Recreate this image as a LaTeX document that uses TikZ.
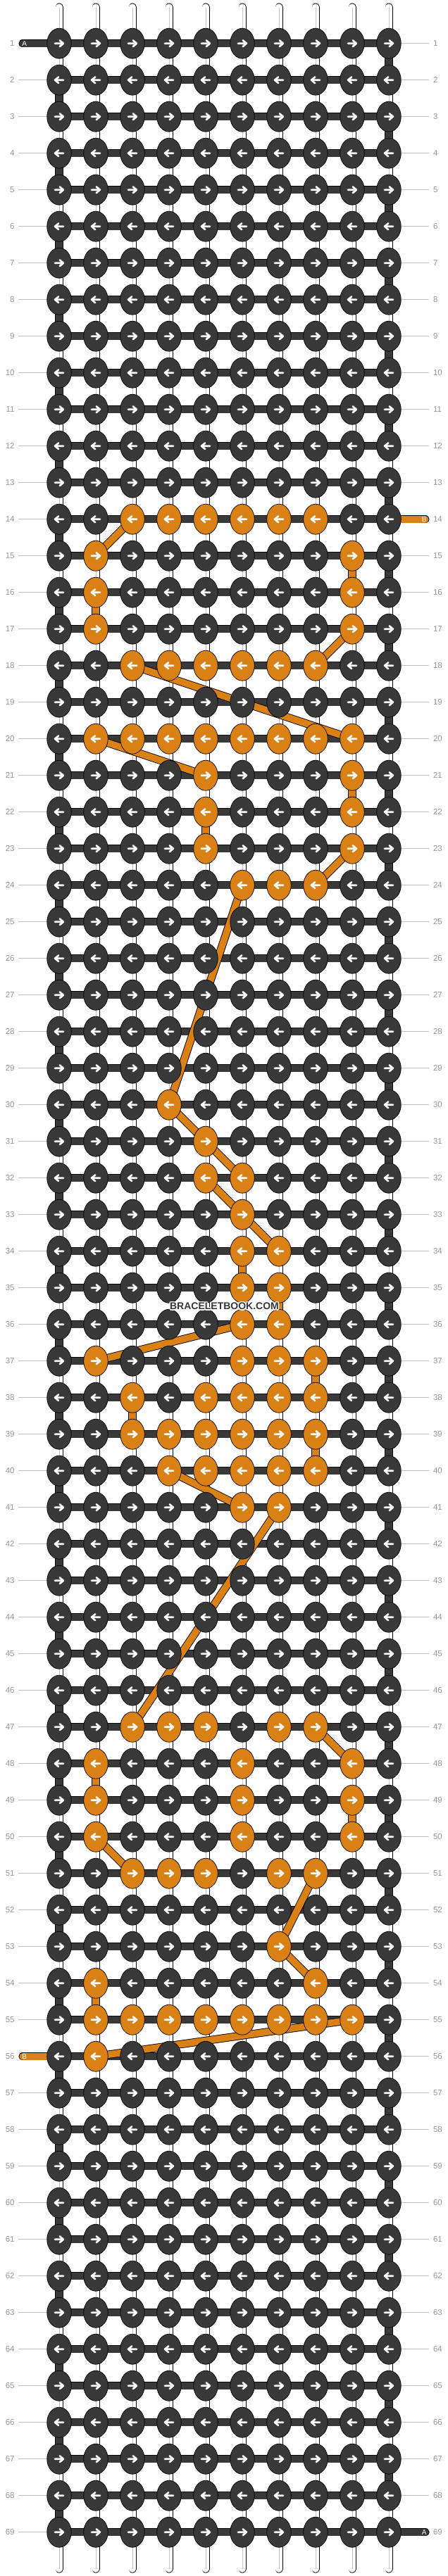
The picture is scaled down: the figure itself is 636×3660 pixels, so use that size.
\documentclass[tikz,border=0pt]{standalone}
\usepackage{fontspec}
\setmainfont{Liberation Sans}
\usetikzlibrary{shapes.geometric}
\pgfdeclarelayer{bg}
\pgfdeclarelayer{strands}
\pgfdeclarelayer{bands}
\pgfdeclarelayer{orangel}
\pgfsetlayers{bg,strands,bands,orangel,main}

\definecolor{knotdark}{RGB}{57,57,57}
\definecolor{knotorange}{RGB}{218,129,22}
\definecolor{labelgray}{RGB}{150,150,150}
\definecolor{linegray}{RGB}{190,190,190}
\definecolor{strandcore}{RGB}{195,195,195}
\definecolor{wmgray}{RGB}{55,55,55}

\newcommand\markorange[2]{\foreach \cc in {#2}{\expandafter\gdef\csname isor-#1-\cc\endcsname{1}}}
\newcommand\ovlist{15/9,16/2,21/9,22/5,34/6,35/7,37/8,38/3,39/8,48/2,49/9,54/2}
\foreach \a/\b in \ovlist {\expandafter\gdef\csname ov-\a-\b\endcsname{1}}

\markorange{14}{3,4,5,6,7,8}
\markorange{15}{2,9}
\markorange{16}{2,9}
\markorange{17}{2,9}
\markorange{18}{3,4,5,6,7,8}
\markorange{20}{2,3,4,5,6,7,8,9}
\markorange{21}{5,9}
\markorange{22}{5,9}
\markorange{23}{5,9}
\markorange{24}{6,7,8}
\markorange{30}{4}
\markorange{31}{5}
\markorange{32}{5,6}
\markorange{33}{6}
\markorange{34}{6,7}
\markorange{35}{6,7}
\markorange{36}{6,7}
\markorange{37}{2,6,7,8}
\markorange{38}{3,5,6,7,8}
\markorange{39}{3,4,5,6,7,8}
\markorange{40}{4,5,6,7,8}
\markorange{41}{6,7}
\markorange{47}{3,4,5,7,8}
\markorange{48}{2,6,9}
\markorange{49}{2,6,9}
\markorange{50}{2,6,9}
\markorange{51}{3,4,5,7,8}
\markorange{53}{7}
\markorange{54}{2,8}
\markorange{55}{2,3,4,5,6,7,8,9}
\markorange{56}{2}

\begin{document}
\begin{tikzpicture}[x=1pt,y=-1pt,
  knot/.style={ellipse, minimum width=34.5pt, minimum height=43pt, inner sep=0pt, draw=black, line width=0.7pt},
  arrowstroke/.style={draw=white, line width=2.6pt, line cap=round, line join=round},
  arrowR/.style={knot, path picture={\draw[arrowstroke]
      ([xshift=-6pt]path picture bounding box.center) -- ([xshift=5.5pt]path picture bounding box.center)
      ([xshift=0.8pt,yshift=4.4pt]path picture bounding box.center) -- ([xshift=6pt]path picture bounding box.center)
      -- ([xshift=0.8pt,yshift=-4.4pt]path picture bounding box.center);}},
  arrowL/.style={knot, path picture={\draw[arrowstroke]
      ([xshift=6pt]path picture bounding box.center) -- ([xshift=-5.5pt]path picture bounding box.center)
      ([xshift=-0.8pt,yshift=4.4pt]path picture bounding box.center) -- ([xshift=-6pt]path picture bounding box.center)
      -- ([xshift=-0.8pt,yshift=-4.4pt]path picture bounding box.center);}},
  bandline/.style={draw=black, line width=0.9pt, double=knotdark, double distance=9.6pt},
  orangeline/.style={draw=black, line width=0.9pt, double=knotorange, double distance=9.6pt},
  whitestrand/.style={draw=black, line width=0.9pt, double=white, double distance=9.2pt},
  strandcoreline/.style={draw=strandcore, line width=0.7pt},
  gridgray/.style={draw=linegray, line width=0.9pt},
  rowlab/.style={inner sep=0pt, text=labelgray, font=\fontsize{11.5}{13}\selectfont},
  endlab/.style={inner sep=0pt, text=white, font=\fontsize{10}{12}\selectfont},
  wmtext/.style={inner sep=0pt, font=\bfseries\fontsize{14}{16}\selectfont}
]
\begin{pgfonlayer}{bg}
\fill[white] (0,0) rectangle (636,3660);
\end{pgfonlayer}
\useasboundingbox (0,0) rectangle (636,3660);

% knots
\foreach \i in {1,...,69}{
  \foreach \j in {1,...,10}{
    \ifcsname isor-\i-\j\endcsname\def\kfill{knotorange}\else\def\kfill{knotdark}\fi
    \ifodd\i\relax\tikzset{curknot/.style={arrowR}}\else\tikzset{curknot/.style={arrowL}}\fi
    \node[curknot, fill=\kfill] (k-\i-\j) at ({84+52*(\j-1)},{61.7+52*(\i-1)}) {};
  }
}

% vertical strands
\begin{pgfonlayer}{strands}
\foreach \j in {1,...,10}{
  \coordinate (top-\j) at ({84+52*(\j-1)},9.9);
  \coordinate (topc-\j) at ({84+52*(\j-1)},10.5);
  \coordinate (bot-\j) at ({84+52*(\j-1)},3650.2);
  \coordinate (botc-\j) at ({84+52*(\j-1)},3649.6);
  \draw[whitestrand, line cap=round] (top-\j) -- (k-1-\j.center);
  \draw[strandcoreline] (topc-\j) -- (k-1-\j.center);
  \draw[whitestrand, line cap=round] (k-69-\j.center) -- (bot-\j);
  \draw[strandcoreline] (k-69-\j.center) -- (botc-\j);
}
\foreach \i in {1,...,68}{
  \pgfmathtruncatemacro\ii{\i+1}
  \foreach \j in {1,...,10}{
    \def\doit{1}
    \ifodd\i\relax \ifnum\j=10 \def\doit{0}\fi \else \ifnum\j=1 \def\doit{0}\fi \fi
    \ifcsname ov-\i-\j\endcsname\def\doit{0}\fi
    \ifnum\doit=1
      \draw[whitestrand] (k-\i-\j.center) -- (k-\ii-\j.center);
      \draw[strandcoreline] (k-\i-\j.center) -- (k-\ii-\j.center);
    \fi
  }
}
% row guide lines
\foreach \i in {1,...,69}{
  \ifnum\i=1 \else\ifnum\i=56 \else
    \coordinate (gl-\i) at (26,{61.7+52*(\i-1)});
    \draw[gridgray] (gl-\i) -- (k-\i-1.west);
  \fi\fi
  \ifnum\i=14 \else\ifnum\i=69 \else
    \coordinate (gr-\i) at (609,{61.7+52*(\i-1)});
    \draw[gridgray] (k-\i-10.east) -- (gr-\i);
  \fi\fi
}
\end{pgfonlayer}

% horizontal working strand A
\begin{pgfonlayer}{bands}
\foreach \i in {1,...,69}{
  \foreach \j in {1,...,9}{
    \pgfmathtruncatemacro\jn{\j+1}
    \draw[bandline] (k-\i-\j.center) -- (k-\i-\jn.center);
  }
}
\foreach \i in {1,3,...,67}{
  \pgfmathtruncatemacro\ii{\i+1}
  \draw[bandline] (k-\i-10.center) -- (k-\ii-10.center);
}
\foreach \i in {2,4,...,68}{
  \pgfmathtruncatemacro\ii{\i+1}
  \draw[bandline] (k-\i-1.center) -- (k-\ii-1.center);
}
\coordinate (aStart) at (32.2,61.7);
\coordinate (aEnd) at (603.8,3597.7);
\draw[bandline, line cap=round] (aStart) -- (k-1-1.center);
\draw[bandline, line cap=round] (k-69-10.center) -- (aEnd);
\end{pgfonlayer}

% orange strand B
\begin{pgfonlayer}{orangel}
\foreach \a/\b in \ovlist{
  \pgfmathtruncatemacro\aa{\a+1}
  \draw[orangeline] (k-\a-\b.center) -- (k-\aa-\b.center);
}
\foreach \a/\b/\c/\d in {14/3/15/2, 17/9/18/8, 18/3/20/9, 20/2/21/5, 23/9/24/8, 24/6/30/4,
    30/4/31/5, 31/5/32/6, 32/5/33/6, 33/6/34/7, 36/6/37/2, 40/4/41/6, 41/7/47/3,
    47/8/48/9, 50/2/51/3, 51/8/53/7, 53/7/54/8, 55/9/56/2}{
  \draw[orangeline] (k-\a-\b.center) -- (k-\c-\d.center);
}
\coordinate (bStart) at (603.8,737.7);
\coordinate (bEnd) at (32.2,2921.7);
\draw[orangeline, line cap=round] (k-14-10.center) -- (bStart);
\draw[orangeline, line cap=round] (bEnd) -- (k-56-1.center);
\end{pgfonlayer}

% end letters
\node[endlab] (labA1) at (34.6,61.7) {A};
\node[endlab] (labA2) at (602.3,3597.7) {A};
\node[endlab] (labB1) at (602.3,737.7) {B};
\node[endlab] (labB2) at (34.6,2921.7) {B};

% row numbers
\foreach \i in {1,...,69}{
  \node[rowlab, anchor=east] (ln-\i) at (20.8,{61.7+52*(\i-1)}) {\i};
  \node[rowlab, anchor=west] (rn-\i) at (614.8,{61.7+52*(\i-1)}) {\i};
}

% watermark
\foreach \dx/\dy [count=\n] in {1.5/0,-1.5/0,0/1.5,0/-1.5,1.1/1.1,1.1/-1.1,-1.1/1.1,-1.1/-1.1}{
  \node[wmtext, text=white] (wmh\n) at ({318.5+\dx},{1855.7+\dy}) {BRACELETBOOK.COM};
}
\node[wmtext, text=wmgray] (wm) at (318.5,1855.7) {BRACELETBOOK.COM};
\end{tikzpicture}
\end{document}
